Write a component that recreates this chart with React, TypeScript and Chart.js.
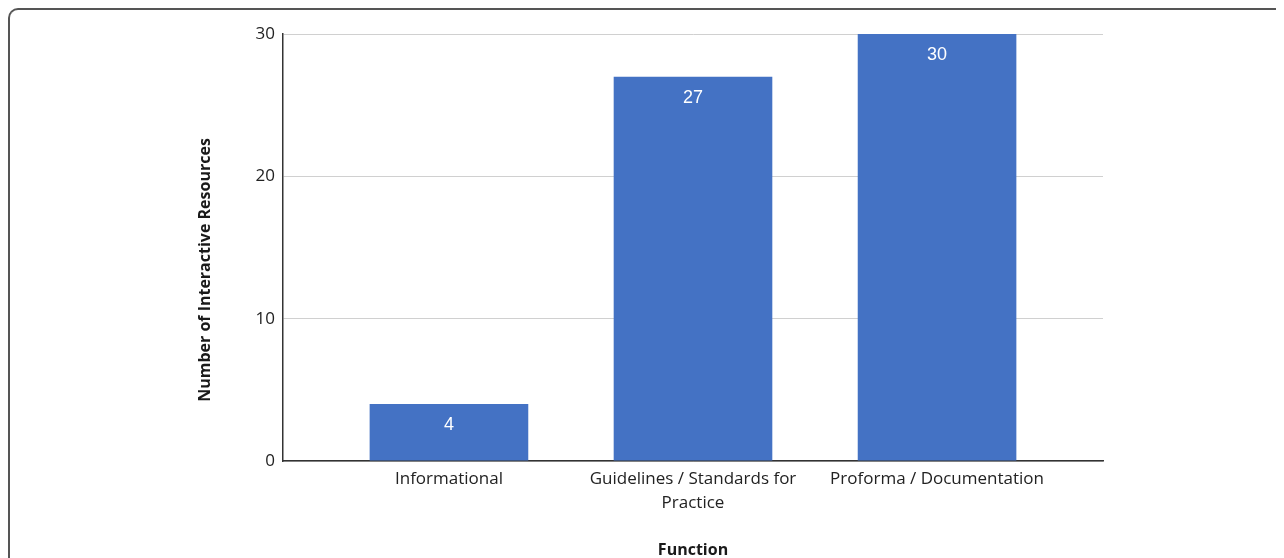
import React, { useEffect, useRef } from "react";
import { Chart, registerables } from "chart.js";

Chart.register(...registerables);

const categories: (string | string[])[] = [
  "Informational",
  ["Guidelines / Standards for", "Practice"],
  "Proforma / Documentation",
];
const values: number[] = [4, 27, 30];
const yTicks: number[] = [0, 10, 20, 30];
const yTitle = "Number of Interactive Resources";
const xTitle = "Function";

const FONT = "'Open Sans', 'DejaVu Sans', sans-serif";
const LABEL_FONT = "'Liberation Sans', Arial, sans-serif";

const labelsPlugin = {
  id: "customLabels",
  afterDatasetsDraw(chart: any) {
    const { ctx, chartArea } = chart;
    const meta = chart.getDatasetMeta(0);
    ctx.save();
    ctx.fillStyle = "#ffffff";
    ctx.font = `18px ${LABEL_FONT}`;
    ctx.textAlign = "center";
    ctx.textBaseline = "middle";
    meta.data.forEach((bar: any, i: number) => {
      ctx.fillText(String(values[i]), bar.x, bar.y + 21);
    });
    ctx.restore();
    // titles
    ctx.save();
    ctx.fillStyle = "#1a1a1a";
    ctx.font = `bold 16px ${FONT}`;
    ctx.textAlign = "center";
    ctx.textBaseline = "middle";
    ctx.fillText(xTitle, (chartArea.left + chartArea.right) / 2, 542);
    ctx.translate(197, 262);
    ctx.rotate(-Math.PI / 2);
    ctx.fillText(yTitle, 0, 0);
    ctx.restore();
  },
};

export default function App() {
  const ref = useRef<HTMLCanvasElement>(null);
  useEffect(() => {
    if (!ref.current) return;
    const chart = new Chart(ref.current, {
      type: "bar",
      data: {
        labels: categories,
        datasets: [
          {
            data: values,
            backgroundColor: "#4472C4",
            categoryPercentage: 1,
            barPercentage: 0.65,
          },
        ],
      },
      options: {
        animation: false,
        responsive: false,
        layout: { padding: { left: 0, top: 26, right: 181, bottom: 0 } },
        plugins: {
          legend: { display: false },
          tooltip: { enabled: false },
        },
        scales: {
          x: {
            offset: true,
            grid: { display: false, drawTicks: false },
            border: { display: true, color: "#333", width: 1.5 },
            ticks: {
              color: "#222",
              font: { family: FONT, size: 17, lineHeight: 1.42 },
              padding: 6,
              maxRotation: 0,
              autoSkip: false,
            },
            afterBuildTicks: (scale: any) => {
              scale._startValue = -0.68;
              scale._valueRange = 3.36;
            },
            afterFit: (scale: any) => {
              scale.height = 97;
            },
          },
          y: {
            min: 0,
            max: 30,
            afterBuildTicks: (scale: any) => {
              scale.ticks = yTicks.map((v) => ({ value: v }));
            },
            grid: { color: "#d0d0d0", drawTicks: false, lineWidth: 1 },
            border: { display: true, color: "#333", width: 1.5 },
            ticks: {
              color: "#222",
              font: { family: FONT, size: 17 },
              padding: 8,
            },
            afterFit: (scale: any) => {
              scale.width = 275;
            },
          },
        },
      },
      plugins: [labelsPlugin],
    });
    return () => chart.destroy();
  }, []);

  return (
    <div style={{ position: "relative", width: 1276, height: 550, overflow: "hidden" }}>
      <div
        style={{
          position: "absolute",
          left: 0,
          top: 0,
          width: 1400,
          height: 700,
          borderTop: "2px solid #555",
          borderLeft: "2px solid #555",
          borderTopLeftRadius: 10,
          boxSizing: "border-box",
        }}
      />
      <canvas ref={ref} width={1276} height={550} style={{ position: "absolute", left: 0, top: 0 }} />
    </div>
  );
}
